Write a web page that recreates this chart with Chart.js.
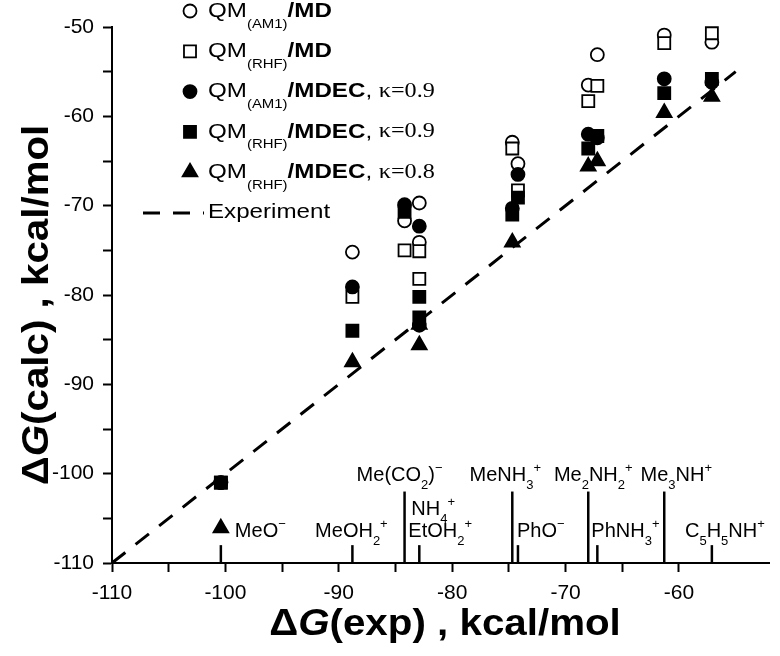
<!DOCTYPE html>
<html>
<head>
<meta charset="utf-8">
<script src="https://cdn.jsdelivr.net/npm/chart.js@4.4.1/dist/chart.umd.min.js"></script>
<style>
  html, body { margin: 0; padding: 0; background: #fff; }
  #wrap { width: 780px; height: 656px; }
</style>
</head>
<body>
<div id="wrap"><canvas id="dgChart" width="780" height="656"></canvas></div>
<script>
// compounds, in the order of the sticks along the x axis
const compounds = ['MeO^−', 'MeOH_2^+', 'Me(CO_2)^−', 'NH_4^+', 'EtOH_2^+', 'MeNH_3^+',
  'PhO^−', 'Me_2NH_2^+', 'PhNH_3^+', 'Me_3NH^+', 'C_5H_5NH^+'];
const expDG = [-100.4, -88.8, -84.2, -82.9, -82.9, -74.7, -74.2, -68.0, -67.2, -61.3, -57.1];

// calculated values, one per compound (null = not visible)
const am1MD     = [-101.0, -75.2, -71.7, -69.7, -74.1, -62.9, -65.3, -56.5, -53.1, -50.9, -51.7];
const rhfMD     = [-101.0, -80.2, -75.0, -75.1, -78.2, -63.6, -68.3, -58.3, -56.6, -51.8, -50.7];
const am1MDEC09 = [-101.0, -79.1, -69.9, -72.3, -83.4, -70.3, -66.5, -62.0, -62.4, -55.8, -56.2];
const rhfMDEC09 = [-101.0, -84.0, -70.7, -80.2, -82.5, -71.0, -69.1, -63.6, -62.2, -57.4, -55.8];
const rhfMDEC08 = [-106.1, -87.5, null, -83.3, -85.6, -74.1, null, -65.6, -65.0, -59.6, -57.8];

// top of each marker stick (null = no stick)
const stickTop = [-108, -108, -102, null, -108, -102, -108, -102, -108, -102, -108];
const diagonal = [-110, -55];

const xTicks = [-110, -100, -90, -80, -70, -60];
const yTicks = [-110, -100, -90, -80, -70, -60, -50];

// label placement: [dx px from stick, row, align]
const labelLayout = [
  [14, 'low', 'left'], [-1, 'low', 'center'], [-5, 'top', 'center'], [-8, 'mid', 'left'],
  [-11, 'low', 'left'], [-7, 'top', 'center'], [-1, 'low', 'left'], [5, 'top', 'center'],
  [-6, 'low', 'left'], [12, 'top', 'center'], [13, 'low', 'center']
];
const rowY = { top: 475, mid: 509, low: 531 };

const SANS = "'Liberation Sans', Arial, sans-serif";
const SERIF = "'Liberation Serif', 'Times New Roman', serif";

const seriesDefs = [
  { name: [{ t: 'QM' }, { t: '(AM1)', pos: 'sub' }, { t: '/MD', bold: true }],
    data: am1MD, style: 'circle', fill: '#fff', r: 6.5 },
  { name: [{ t: 'QM' }, { t: '(RHF)', pos: 'sub' }, { t: '/MD', bold: true }],
    data: rhfMD, style: 'rect', fill: '#fff', r: 8.5 },
  { name: [{ t: 'QM' }, { t: '(AM1)', pos: 'sub' }, { t: '/MDEC', bold: true }, { t: ', ' }, { t: 'κ=0.9', serif: true }],
    data: am1MDEC09, style: 'circle', fill: '#000', r: 6.5 },
  { name: [{ t: 'QM' }, { t: '(RHF)', pos: 'sub' }, { t: '/MDEC', bold: true }, { t: ', ' }, { t: 'κ=0.9', serif: true }],
    data: rhfMDEC09, style: 'rect', fill: '#000', r: 8.5 },
  { name: [{ t: 'QM' }, { t: '(RHF)', pos: 'sub' }, { t: '/MDEC', bold: true }, { t: ', ' }, { t: 'κ=0.8', serif: true }],
    data: rhfMDEC08, style: 'triangle', fill: '#000', r: 8.5 }
];

function parseChem(s) {
  const segs = [];
  for (let i = 0; i < s.length; i++) {
    const c = s[i];
    if (c === '_' || c === '^') {
      segs.push({ t: s[i + 1], pos: c === '_' ? 'sub' : 'sup' });
      i++;
    } else {
      segs.push({ t: c });
    }
  }
  return segs;
}

function segFont(seg, size, subScale) {
  const fs = seg.pos ? Math.round(size * subScale) : size;
  return (seg.italic ? 'italic ' : '') + (seg.bold ? 'bold ' : '') + fs + 'px ' + (seg.serif ? SERIF : SANS);
}

// draws mixed-style text; o = {align, size, sx (horizontal stretch), subDy, supDy, subScale}
function drawRich(ctx, segs, x, y, o) {
  const size = o.size, sx = o.sx || 1, subScale = o.subScale || 0.68;
  ctx.save();
  ctx.textBaseline = 'middle';
  ctx.textAlign = 'left';
  let total = 0;
  const widths = segs.map(s => {
    ctx.font = segFont(s, size, subScale);
    const w = ctx.measureText(s.t).width;
    total += w;
    return w;
  });
  total *= sx;
  const x0 = o.align === 'center' ? x - total / 2 : (o.align === 'right' ? x - total : x);
  ctx.translate(x0, y);
  ctx.scale(sx, 1);
  let cx = 0;
  segs.forEach((s, i) => {
    ctx.font = segFont(s, size, subScale);
    let dy = 0;
    if (s.pos === 'sub') dy = size * (o.subDy || 0.5);
    if (s.pos === 'sup') dy = -size * (o.supDy || 0.32);
    ctx.fillText(s.t, cx, dy);
    cx += widths[i];
  });
  ctx.restore();
}

const datasets = [];
seriesDefs.forEach((s, k) => {
  datasets.push({
    data: expDG.map((x, i) => ({ x: x, y: s.data[i] })).filter(p => p.y !== null),
    pointStyle: s.style,
    pointRadius: s.r,
    pointBackgroundColor: s.fill,
    pointBorderColor: '#000',
    pointBorderWidth: 1.8,
    showLine: false,
    clip: false,
    order: 5 - k
  });
});

datasets.push({
  type: 'line',
  data: diagonal.map(v => ({ x: v, y: v })),
  borderColor: '#000',
  borderWidth: 3,
  borderDash: [17, 13],
  pointRadius: 0,
  order: 10
});

expDG.forEach((x, i) => {
  if (stickTop[i] === null) return;
  datasets.push({
    type: 'line',
    data: [{ x: x, y: -110 }, { x: x, y: stickTop[i] }],
    borderColor: '#000',
    borderWidth: 2.5,
    pointRadius: 0,
    clip: false,
    order: 9
  });
});

const textPlugin = {
  id: 'texts',
  afterDraw(chart) {
    const ctx = chart.ctx;
    const xs = chart.scales.x;
    ctx.fillStyle = '#000';

    // compound labels
    compounds.forEach((c, i) => {
      const [dx, row, align] = labelLayout[i];
      drawRich(ctx, parseChem(c), xs.getPixelForValue(expDG[i]) + dx, rowY[row],
        { align: align, size: 20, subDy: 0.5, supDy: 0.32, subScale: 0.66 });
    });

    // legend
    seriesDefs.forEach((s, k) => {
      const y = 11 + k * 40.3;
      ctx.save();
      ctx.fillStyle = s.fill;
      ctx.strokeStyle = '#000';
      ctx.lineWidth = 1.8;
      Chart.helpers.drawPoint(ctx, { pointStyle: s.style, radius: s.r, rotation: 0, borderWidth: 1.8 }, 190, y);
      ctx.restore();
      ctx.fillStyle = '#000';
      drawRich(ctx, s.name, 208, y, { align: 'left', size: 21, sx: 1.15, subDy: 0.62, subScale: 0.62 });
    });
    ctx.save();
    ctx.strokeStyle = '#000';
    ctx.lineWidth = 3;
    ctx.setLineDash([17, 13]);
    ctx.beginPath();
    ctx.moveTo(143, 213);
    ctx.lineTo(204, 213);
    ctx.stroke();
    ctx.restore();
    drawRich(ctx, [{ t: 'Experiment' }], 208, 212, { align: 'left', size: 21, sx: 1.15 });

    // axis titles
    const titleOpts = { align: 'center', size: 36, sx: 1.12 };
    drawRich(ctx, [{ t: 'Δ', bold: true }, { t: 'G', bold: true, italic: true }, { t: '(exp) , kcal/mol', bold: true }],
      445, 625, titleOpts);
    ctx.save();
    ctx.translate(38, 305);
    ctx.rotate(-Math.PI / 2);
    drawRich(ctx, [{ t: 'Δ', bold: true }, { t: 'G', bold: true, italic: true }, { t: '(calc) , kcal/mol', bold: true }],
      0, 0, titleOpts);
    ctx.restore();
  }
};

const axisStyle = (ticks) => ({
  type: 'linear',
  min: -110,
  border: { display: true, color: '#000', width: 2 },
  grid: { display: true, drawOnChartArea: false, drawTicks: true, tickLength: 9, tickColor: '#000', tickWidth: 2 },
  ticks: {
    stepSize: 5,
    autoSkip: false,
    maxRotation: 0,
    color: '#000',
    font: { family: SANS, size: 21 },
    padding: 9,
    callback: v => (ticks.includes(v) ? String(v) : '')
  },
  afterBuildTicks: scale => { scale.ticks = scale.ticks.filter(t => t.value % 5 === 0); }
});

const xAxis = axisStyle(xTicks);
xAxis.max = -52;
xAxis.afterFit = scale => { scale.height = 93; };
const yAxis = axisStyle(yTicks);
yAxis.max = -50;
yAxis.afterFit = scale => { scale.width = 112; };

new Chart(document.getElementById('dgChart').getContext('2d'), {
  type: 'scatter',
  data: { datasets: datasets },
  options: {
    responsive: false,
    devicePixelRatio: 1,
    animation: false,
    layout: { padding: { top: 27, right: 0, left: 0, bottom: 0 } },
    plugins: { legend: { display: false }, tooltip: { enabled: false } },
    scales: { x: xAxis, y: yAxis }
  },
  plugins: [textPlugin]
});
</script>
</body>
</html>
